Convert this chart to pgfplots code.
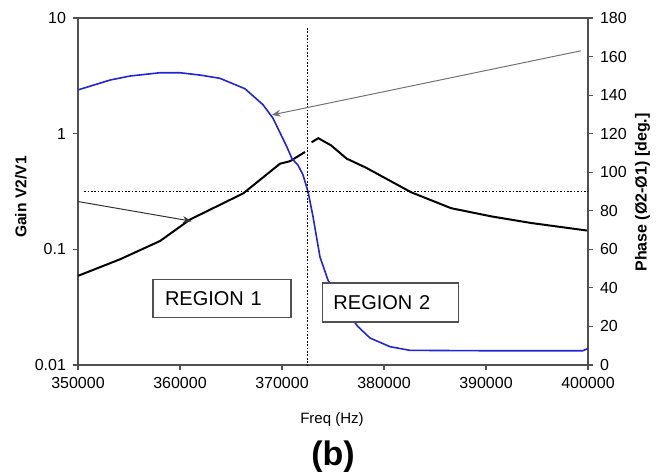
\documentclass[border=0pt]{standalone}
\usepackage{fontspec}
\setmainfont{Liberation Sans}
\usepackage{pgfplots}
\pgfplotsset{compat=1.18}
\usetikzlibrary{arrows.meta}

\definecolor{phaseblue}{RGB}{35,35,215}
\definecolor{axisgray}{RGB}{80,80,80}

\pgfplotsset{
  common/.style={
    scale only axis, width=255pt, height=173.5pt,
    xmin=350000, xmax=400000,
    scaled x ticks=false, scaled y ticks=false,
    tick align=outside, major tick length=2.5pt,
    axis line style={axisgray, line width=0.7pt},
    tick style={axisgray, line width=0.6pt},
    ticklabel style={font=\fontsize{8}{9}\selectfont},
  },
}
\tikzset{dotline/.style={black, line width=0.85pt, dash pattern=on 0.85pt off 0.85pt}}

\begin{document}
\begin{tikzpicture}
\useasboundingbox (-39pt,-53pt) rectangle (292pt,182.5pt);

% gain, left log axis
\begin{axis}[common,
  ymode=log, ymin=0.01, ymax=10, yminorticks=false,
  xtick={350000,360000,370000,380000,390000,400000},
  xticklabels={350000,360000,370000,380000,390000,400000},
  ytick={0.01,0.1,1,10}, yticklabels={0.01,0.1,1,10},
  ytick pos=left, xtick pos=left,
  xlabel={Freq (Hz)},
  xlabel style={at={(axis description cs:0.498,-0.1585)}, anchor=center, font=\fontsize{7.5}{9}\selectfont},
  ylabel={Gain V2/V1},
  ylabel style={at={(axis description cs:-0.112,0.484)}, anchor=center, font=\bfseries\fontsize{7.8}{9}\selectfont},
  after end axis/.code={
    \node[font=\bfseries\fontsize{17}{17}\selectfont] at (axis description cs:0.5,-0.265) {(b)};
  },
]
\addplot[black, line width=1pt] coordinates {
(350000,0.059) (354118,0.082) (358039,0.118) (360980,0.181)
(366206,0.305) (369804,0.55) (370784,0.578) (372255,0.695)
};
\addplot[black, line width=1pt] coordinates {
(372902,0.843) (373559,0.914) (374804,0.793) (376343,0.608)
(378200,0.51) (382647,0.312) (386569,0.227) (390490,0.193)
(394412,0.169) (400000,0.145)
};
\draw[black!80, line width=0.5pt, -{Stealth[length=4.5pt,width=3.5pt]}]
  (axis cs:350000,0.259) -- (axis cs:361150,0.175);
\end{axis}

% phase, right linear axis
\begin{axis}[common,
  ymin=0, ymax=180,
  axis y line*=right, axis x line=none,
  ytick={0,20,40,60,80,100,120,140,160,180},
  yticklabels={0,20,40,60,80,100,120,140,160,180},
  ylabel={Phase (Ø2-Ø1) [deg.]},
  ylabel style={at={(axis description cs:1.107,0.497)}, anchor=center, font=\bfseries\fontsize{8}{9}\selectfont},
]
\addplot[phaseblue, line width=0.8pt] coordinates {
(350000,142.7) (353137,147.8) (355098,149.9) (358039,151.6)
(360000,151.6) (361961,150.4) (363922,148.7) (366373,143.3)
(368137,135) (369118,128) (370490,113) (370980,107)
(371569,103.7) (372059,98.6) (372549,90) (373039,77)
(373725,56) (374510,44) (375980,30) (377450,19.9)
(378627,14) (380588,9.5) (382549,7.6) (390000,7.4)
(399500,7.4) (400000,8.6)
};
\draw[dotline] (axis cs:372500,174.8) -- (axis cs:372500,0);
\draw[dotline] (axis cs:350600,90) -- (axis cs:400000,90);
\draw[black!55, line width=0.5pt, -{Stealth[length=4.5pt,width=3.5pt]}]
  (axis cs:399314,163) -- (axis cs:368990,129.7);
\node[draw=axisgray, line width=0.7pt, fill=white, text width=57pt, inner xsep=6pt,
  minimum height=19.2pt, align=left, font=\fontsize{10}{12}\selectfont]
  at (axis cs:364118,34.5) {REGION 1};
\node[draw=axisgray, line width=0.7pt, fill=white, text width=57pt, inner xsep=5.5pt,
  minimum height=19.5pt, align=left, font=\fontsize{10}{12}\selectfont]
  at (axis cs:380637,32.4) {REGION 2};
\end{axis}
\end{tikzpicture}
\end{document}
